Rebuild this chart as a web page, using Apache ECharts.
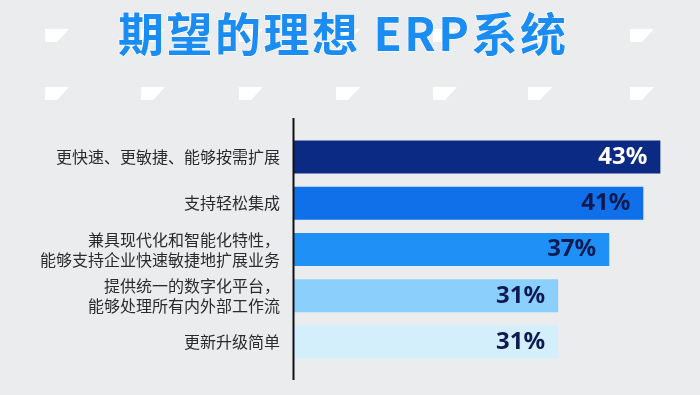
<!DOCTYPE html>
<html><head><meta charset="utf-8">
<script src="https://cdn.jsdelivr.net/npm/echarts@6/dist/echarts.min.js"></script>
<style>html,body{margin:0;padding:0;background:#ebecee}#c{width:700px;height:395px}</style>
</head><body><div id="c"></div>
<script>
const categories = ['更快速、更敏捷、能够按需扩展','支持轻松集成','兼具现代化和智能化特性，\n能够支持企业快速敏捷地扩展业务','提供统一的数字化平台，\n能够处理所有内外部工作流','更新升级简单'];
const values = [43, 41, 37, 31, 31];
const barColors = ['#0a2a84','#0f70ea','#1f90f6','#8bd0fd','#d4effc'];
const labelColors = ['#ffffff','#0d1b52','#0d1b52','#0d1b52','#0d1b52'];
const titleText = '期望的理想 ERP系统';

const decoX = [45, 141, 239, 336, 433, 528, 630];
const decoY = [29, 87];
const graphics = [];
decoY.forEach(y => decoX.forEach(x => graphics.push({
  type:'polygon', z:0, silent:true,
  shape:{points:[[x,y],[x+24,y],[x+12,y+13],[x,y+13]]},
  style:{fill:'#ffffff'}
})));
graphics.push({type:'line', z:10, shape:{x1:293.5,y1:118,x2:293.5,y2:380}, style:{stroke:'#111111',lineWidth:2}});

// title with letter spacing, drawn char by char
const titleFont = '700 46px "Noto Sans CJK SC"';
const spacing = 2.5;
const ctx = document.createElement('canvas').getContext('2d');
ctx.font = titleFont;
const chars = Array.from(titleText);
const widths = chars.map(c => ctx.measureText(c).width);
const total = widths.reduce((a,b)=>a+b,0) + spacing*(chars.length-1);
let cx = 342 - total/2;
chars.forEach((c,i) => {
  graphics.push({type:'text', z:20, x:cx, y:34, style:{text:c, fill:'#1a8cf2', font:titleFont, textAlign:'left', textVerticalAlign:'middle', stroke:'#ffffff', lineWidth:1.2}});
  cx += widths[i] + spacing;
});

const chart = echarts.init(document.getElementById('c'));
chart.setOption({
  backgroundColor:'#ebecee',
  animation:false,
  graphic: graphics,
  grid:{left:294, top:134, width:383.4, height:231},
  xAxis:{type:'value', min:0, max:45, show:false},
  yAxis:{type:'category', data:categories, inverse:true,
    axisLine:{show:false}, axisTick:{show:false},
    axisLabel:{margin:14, color:'#2b2b2b', fontSize:16, lineHeight:20, fontFamily:'"Noto Sans CJK SC"'}},
  series:[{type:'bar', barWidth:33,
    data: values.map((v,i)=>({value:v, itemStyle:{color:barColors[i]}, label:{color:labelColors[i]}})),
    label:{show:true, position:'insideRight', distance:13, formatter:'{c}%', fontSize:24, fontWeight:'bold', fontFamily:'"Noto Sans"'}
  }]
});
</script></body></html>
